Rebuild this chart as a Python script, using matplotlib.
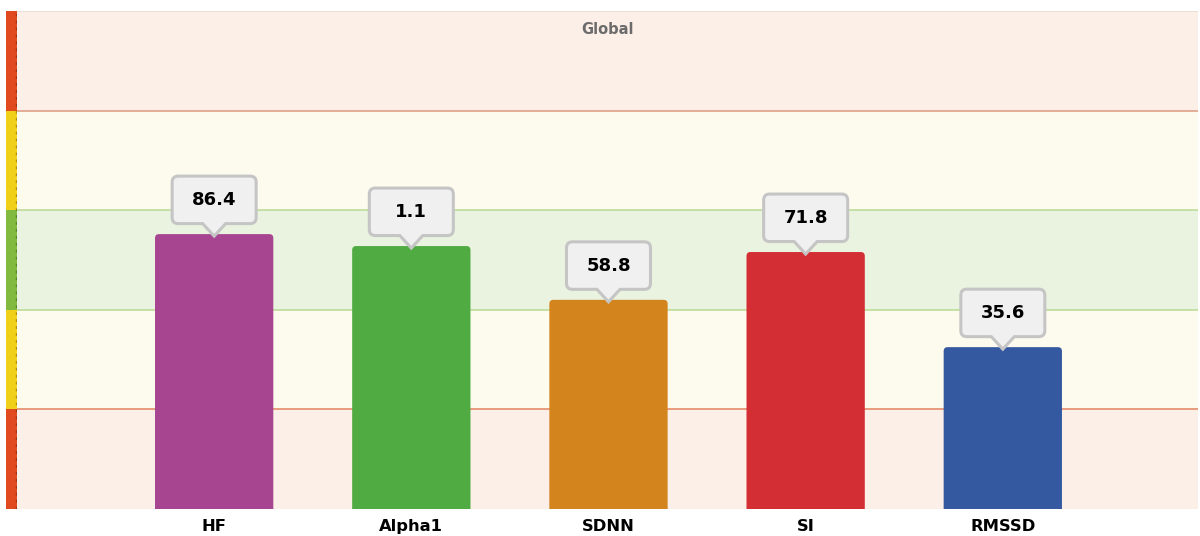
"""
Global HRV summary chart: bars in zone bands with callout labels.
"""

import matplotlib
matplotlib.use('Agg')
import matplotlib.pyplot as plt
import matplotlib.transforms as mtrans
from matplotlib.patches import FancyBboxPatch, PathPatch
from matplotlib.path import Path


# =============================================================================
# DATA
# =============================================================================

metrics = ['HF', 'Alpha1', 'SDNN', 'SI', 'RMSSD']
scores = [55.2, 52.8, 42.0, 51.6, 32.5]         # position on the 0-100 zone scale
labels = ['86.4', '1.1', '58.8', '71.8', '35.6']  # values shown in the callouts
colors = ['#a74591', '#4fab42', '#d3841c', '#d42e35', '#3559a0']

zone_edges = [0, 20, 40, 60, 80, 100]
zone_fill = ['#fcefe7', '#fdfbee', '#e9f3df', '#fdfbee', '#fcefe7']
zone_strip = ['#e04a1e', '#f1d01a', '#82b93f', '#f1d01a', '#e04a1e']
zone_line = {20: '#e2835f', 40: '#b8da93', 60: '#b8da93', 80: '#dd9a80'}


# =============================================================================
# FIGURE
# =============================================================================

W, H = 1200, 536
fig = plt.figure(figsize=(W/100., H/100.), dpi=100)
fig.patch.set_facecolor('white')

# main axes (pixel placement)
l, r, t, b = 17, 1198, 11, 509
ax = fig.add_axes([l/W, 1-b/H, (r-l)/W, (b-t)/H])
ax.set_xlim(-1, 4.99)
ax.set_ylim(0, 100)
for s in ax.spines.values():
    s.set_visible(False)

# zone bands
for i in range(5):
    ax.axhspan(zone_edges[i], zone_edges[i+1], color=zone_fill[i], lw=0, zorder=0)
for y, c in zone_line.items():
    ax.axhline(y, color=c, lw=1.1, zorder=1)
ax.axhline(100, color='#e8ddd7', lw=1.2, zorder=1)
ax.axhline(0, color='#f3ebe6', lw=1.0, zorder=1)

# bars with rounded tops
xs = list(range(len(metrics)))
bars = ax.bar(xs, scores, width=0.6, color=colors, zorder=2)
dx = 6./(r-l)          # data units per pixel (x)
dy = 100./(b-t)        # data units per pixel (y)
for p in bars.patches:
    x0, y0 = p.get_x(), p.get_y()
    w, h = p.get_width(), p.get_height()
    fb = FancyBboxPatch((x0, y0-5), w, h+5,
                        boxstyle='round,pad=0,rounding_size=%f' % (4*dx),
                        mutation_aspect=dy/dx,
                        fc=p.get_facecolor(), ec='none', zorder=2)
    ax.add_patch(fb)
    p.remove()

# callouts (offsets in inches around the bar top)
bw, bt, bb, rr, pw, tip = 0.42, 0.58, 0.105, 0.06, 0.115, -0.02
verts = [(-pw, bb), (-bw+rr, bb), (-bw, bb), (-bw, bb+rr),
         (-bw, bt-rr), (-bw, bt), (-bw+rr, bt),
         (bw-rr, bt), (bw, bt), (bw, bt-rr),
         (bw, bb+rr), (bw, bb), (bw-rr, bb),
         (pw, bb), (0, tip), (-pw, bb)]
codes = [Path.MOVETO, Path.LINETO, Path.CURVE3, Path.CURVE3,
         Path.LINETO, Path.CURVE3, Path.CURVE3,
         Path.LINETO, Path.CURVE3, Path.CURVE3,
         Path.LINETO, Path.CURVE3, Path.CURVE3,
         Path.LINETO, Path.LINETO, Path.CLOSEPOLY]
shape = Path(verts, codes)
for x, y, lab in zip(xs, scores, labels):
    tr = fig.dpi_scale_trans + mtrans.ScaledTranslation(x, y, ax.transData)
    ax.add_patch(PathPatch(shape, fc='#f0f0f0', ec='#c5c5c5', lw=2.2,
                           transform=tr, zorder=3, clip_on=False))
    ax.text(0, (bt+bb)/2., lab, transform=tr, ha='center', va='center',
            fontsize=13, fontweight='bold', color='black', zorder=4)

# axis labels
ax.set_xticks(xs)
ax.set_xticklabels(metrics, fontsize=11.8, fontweight='bold', color='black')
ax.tick_params(axis='x', length=0, pad=7)
ax.set_yticks([])

# title inside the plot
ax.text(0.5, 1-18./(b-t), 'Global', transform=ax.transAxes, ha='center',
        va='center', fontsize=10.5, fontweight='bold', color='#6b6b6b')

# zone strip on the left
axs = fig.add_axes([6/W, 1-b/H, 11/W, (b-t)/H])
axs.set_xlim(0, 1)
axs.set_ylim(0, 100)
for i in range(5):
    axs.axhspan(zone_edges[i], zone_edges[i+1], color=zone_strip[i], lw=0)
axs.axvline(0.92, color='black', alpha=0.3, lw=1.0, dashes=(2, 3))
axs.set_axis_off()

plt.savefig('out.png', dpi=100, facecolor='white')
